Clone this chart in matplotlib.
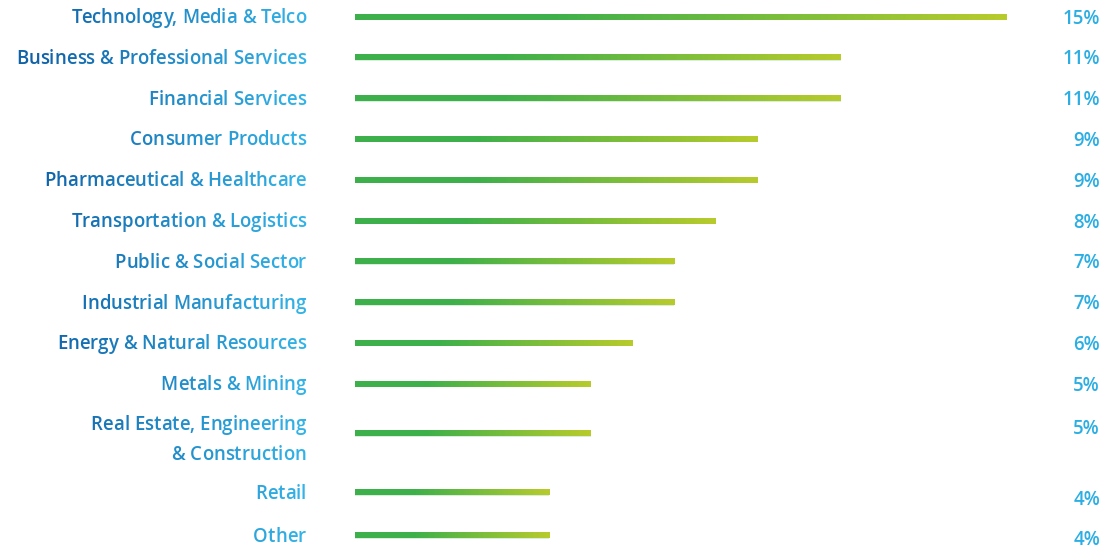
import matplotlib
matplotlib.use("Agg")
import matplotlib.pyplot as plt
import numpy as np
from matplotlib.colors import LinearSegmentedColormap, to_rgb

# Share of respondents by industry
industries = [
    "Technology, Media & Telco",
    "Business & Professional Services",
    "Financial Services",
    "Consumer Products",
    "Pharmaceutical & Healthcare",
    "Transportation & Logistics",
    "Public & Social Sector",
    "Industrial Manufacturing",
    "Energy & Natural Resources",
    "Metals & Mining",
    "Real Estate, Engineering\n& Construction",
    "Retail",
    "Other",
]
shares = [15, 11, 11, 9, 9, 8, 7, 7, 6, 5, 5, 4, 4]

W, H = 1106, 549
BAR_GREEN = "#3db04b"
BAR_LIME = "#b8cb2c"
TEXT_DARK = "#0f62a8"
TEXT_LIGHT = "#33b4e8"
PCT_BLUE = "#2aaee4"
FONT = "Open Sans"
FS = 13.4
WEIGHT = "semibold"

bar_cmap = LinearSegmentedColormap.from_list(
    "bar", [(0, BAR_GREEN), (0.3, BAR_GREEN), (1, BAR_LIME)])

fig = plt.figure(figsize=(W / 100, H / 100), dpi=100)

# row centres in pixels from the top; two-line labels get a taller row
row_h, extra = 40.8, 27
centres = []
y = 17
prev_h = None
for lab in industries:
    h = row_h + extra * lab.count("\n")
    if prev_h is not None:
        y += (prev_h + h) / 2
    centres.append(y)
    prev_h = h
centres[-1] += 2
# two-line rows put the bar a little above the label block's middle
bar_y = [c - 5 if "\n" in lab else c for c, lab in zip(centres, industries)]

# bar axes: value v sits at pixel 383 + 41.6 * v, bars start a bit left of zero
px0, px_per = 383, 41.6
ax_l, ax_r = 355, 1040
ax = fig.add_axes([ax_l / W, 0, (ax_r - ax_l) / W, 1])
base = (ax_l - px0) / px_per
grad = np.linspace(0, 1, 256).reshape(1, -1)
for yc, v in zip(bar_y, shares):
    ax.imshow(grad, cmap=bar_cmap, aspect="auto", interpolation="bilinear",
              extent=[base, v, yc + 2.6, yc - 2.6], zorder=2)
    ax.plot([base, v], [yc, yc], color=BAR_GREEN, lw=5.6 * 0.72,
            alpha=0.25, solid_capstyle="butt", zorder=1)
ax.set_xlim((ax_l - px0) / px_per, (ax_r - px0) / px_per)
ax.set_ylim(H, 0)
ax.axis("off")

# text layer in pixel coordinates
tx = fig.add_axes([0, 0, 1, 1])
tx.set_xlim(0, W)
tx.set_ylim(H, 0)
tx.axis("off")

c0, c1 = np.array(to_rgb(TEXT_DARK)), np.array(to_rgb(TEXT_LIGHT))
grad_x0, grad_x1 = 40, 306


def text_colour(xpix):
    t = np.clip((xpix - grad_x0) / (grad_x1 - grad_x0), 0, 1)
    return tuple(c0 + (c1 - c0) * t)


renderer = fig.canvas.get_renderer()


def width_of(s):
    t = tx.text(0, 0, s, fontsize=FS, family=FONT, weight=WEIGHT)
    w = t.get_window_extent(renderer).width
    t.remove()
    return w


def gradient_line(s, x_right, yc):
    # each glyph coloured by its horizontal position
    total = width_of(s)
    left = x_right - total
    for i, ch in enumerate(s):
        if ch == " ":
            continue
        cw = width_of(ch)
        x = left + width_of(s[:i + 1]) - cw
        tx.text(x, yc, ch, fontsize=FS, family=FONT, weight=WEIGHT,
                ha="left", va="center", color=text_colour(x + cw / 2))


line_gap = 30
for i, (lab, yc) in enumerate(zip(industries, centres)):
    lines = lab.split("\n")
    n = len(lines)
    first = yc + 1 - (n - 1) * line_gap / 2
    for k, ln in enumerate(lines):
        gradient_line(ln, 306, first + k * line_gap)
    if n > 1:
        dy = -10
    elif i == len(industries) - 2:
        dy = 7
    elif i == len(industries) - 1:
        dy = 4
    else:
        dy = 1.5
    tx.text(1100, yc + dy, f"{shares[i]}%", fontsize=FS, family=FONT,
            weight=WEIGHT, ha="right", va="center", color=PCT_BLUE)

fig.savefig("out.png", dpi=100, facecolor="white")
